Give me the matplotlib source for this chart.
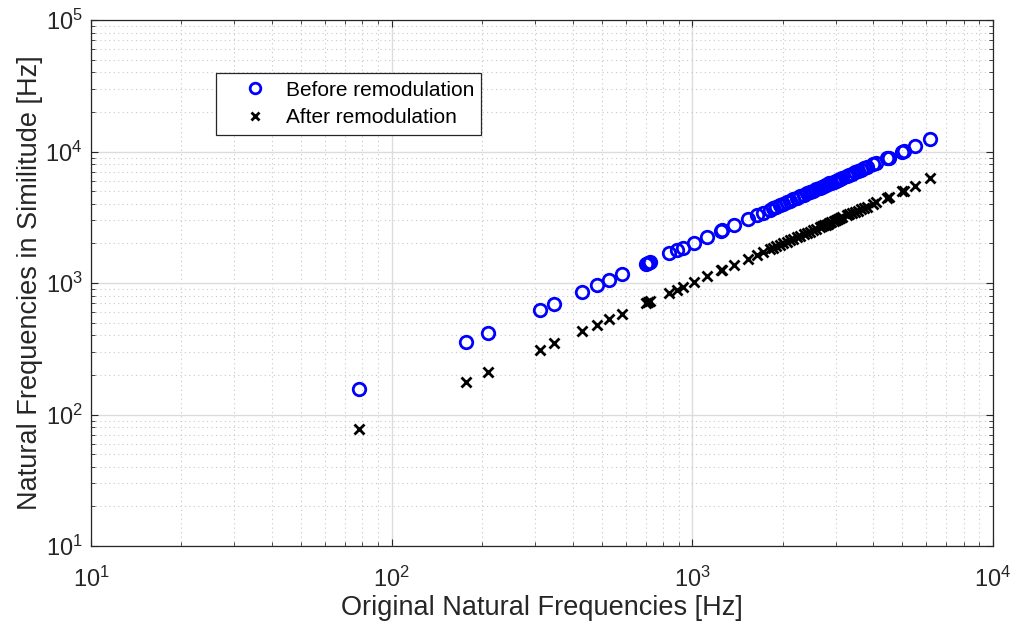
import matplotlib
matplotlib.use("Agg")
import matplotlib.pyplot as plt
from matplotlib.ticker import LogLocator, NullFormatter

plt.rcParams.update({
    "font.family": ["Liberation Sans", "DejaVu Sans"],
    "mathtext.fontset": "custom",
    "mathtext.rm": "Liberation Sans",
    "mathtext.it": "Liberation Sans",
})

# original natural frequencies [Hz]
original = [77.8, 177, 209, 311, 347, 429, 481, 530, 582, 700, 712, 722,
            840, 890, 930, 1015, 1120, 1250, 1260, 1380, 1530, 1640, 1720,
            1810, 1860, 1900, 1960, 2000, 2065, 2110, 2170, 2230, 2290, 2350,
            2400, 2460, 2520, 2580, 2660, 2700, 2740, 2780, 2820, 2860, 2900,
            2950, 3000, 3050, 3100, 3160, 3265, 3330, 3400, 3480, 3560, 3640,
            3720, 3810, 3990, 4100, 4440, 4500, 4980, 5050, 5500, 6170]

# similitude frequencies before remodulation [Hz]
before = [156, 355, 420, 622, 694, 860, 962, 1060, 1165, 1400, 1425, 1445,
          1680, 1780, 1860, 2030, 2240, 2500, 2520, 2760, 3060, 3280, 3440,
          3620, 3720, 3800, 3920, 4000, 4130, 4220, 4340, 4460, 4580, 4700,
          4800, 4920, 5040, 5160, 5320, 5400, 5480, 5560, 5640, 5720, 5800,
          5900, 6000, 6100, 6200, 6320, 6530, 6660, 6800, 6960, 7120, 7280,
          7440, 7620, 7980, 8200, 8880, 9000, 9960, 10100, 11000, 12400]

# similitude frequencies after remodulation [Hz]
after = [77, 178, 210, 312, 348, 430, 482, 531, 583, 702, 713, 724,
         842, 892, 931, 1016, 1122, 1252, 1262, 1382, 1532, 1642, 1722,
         1812, 1862, 1902, 1962, 2002, 2067, 2112, 2172, 2232, 2292, 2352,
         2402, 2462, 2522, 2582, 2662, 2702, 2742, 2782, 2822, 2862, 2902,
         2952, 3002, 3052, 3102, 3162, 3267, 3332, 3402, 3482, 3562, 3642,
         3722, 3812, 3992, 4102, 4442, 4502, 4982, 5052, 5502, 6250]

fig = plt.figure(figsize=(10.14, 6.29), dpi=100)
ax = fig.add_axes([0.0897, 0.132, 0.8895, 0.836])

ax.loglog(original, before, ls="none", marker="o", ms=9, mfc="none",
          mec="#0000ff", mew=2.0, label="Before remodulation")
ax.loglog(original, after, ls="none", marker="x", ms=6.5, color="black",
          mew=2.0, label="After remodulation")

ax.set_xlim(10, 1e4)
ax.set_ylim(10, 1e5)
ax.xaxis.set_major_locator(LogLocator(base=10, numticks=10))
ax.yaxis.set_major_locator(LogLocator(base=10, numticks=10))
ax.xaxis.set_minor_locator(LogLocator(base=10, subs=range(2, 10), numticks=20))
ax.yaxis.set_minor_locator(LogLocator(base=10, subs=range(2, 10), numticks=20))
ax.xaxis.set_minor_formatter(NullFormatter())
ax.yaxis.set_minor_formatter(NullFormatter())

ax.grid(True, which="major", color="#dcdcdc", lw=1.0, ls="-")
ax.grid(True, which="minor", color="#c8c8c8", lw=0.8, ls=(0, (1, 3)))
ax.set_axisbelow(True)

for s in ax.spines.values():
    s.set_color("#262626")
    s.set_linewidth(0.9)
ax.tick_params(which="both", direction="in", top=True, right=True,
               colors="#262626", labelsize=17)
ax.tick_params(which="major", length=5)
ax.tick_params(which="minor", length=3)
ax.tick_params(axis="x", which="major", pad=15)
ax.tick_params(axis="y", which="major", pad=6)

ax.set_xlabel("Original Natural Frequencies [Hz]", fontsize=19.5,
              color="#262626", labelpad=2)
ax.set_ylabel("Natural Frequencies in Similitude [Hz]", fontsize=19.5,
              color="#262626", labelpad=2)

leg = ax.legend(loc="upper left", bbox_to_anchor=(0.1386, 0.899),
                borderaxespad=0, fontsize=15, fancybox=False, framealpha=1,
                edgecolor="#262626", handletextpad=0.0, borderpad=0.35,
                labelspacing=0.42, handlelength=3.0, markerscale=0.85)
leg.get_frame().set_linewidth(0.9)

fig.savefig("out.png", dpi=100, facecolor="white")
